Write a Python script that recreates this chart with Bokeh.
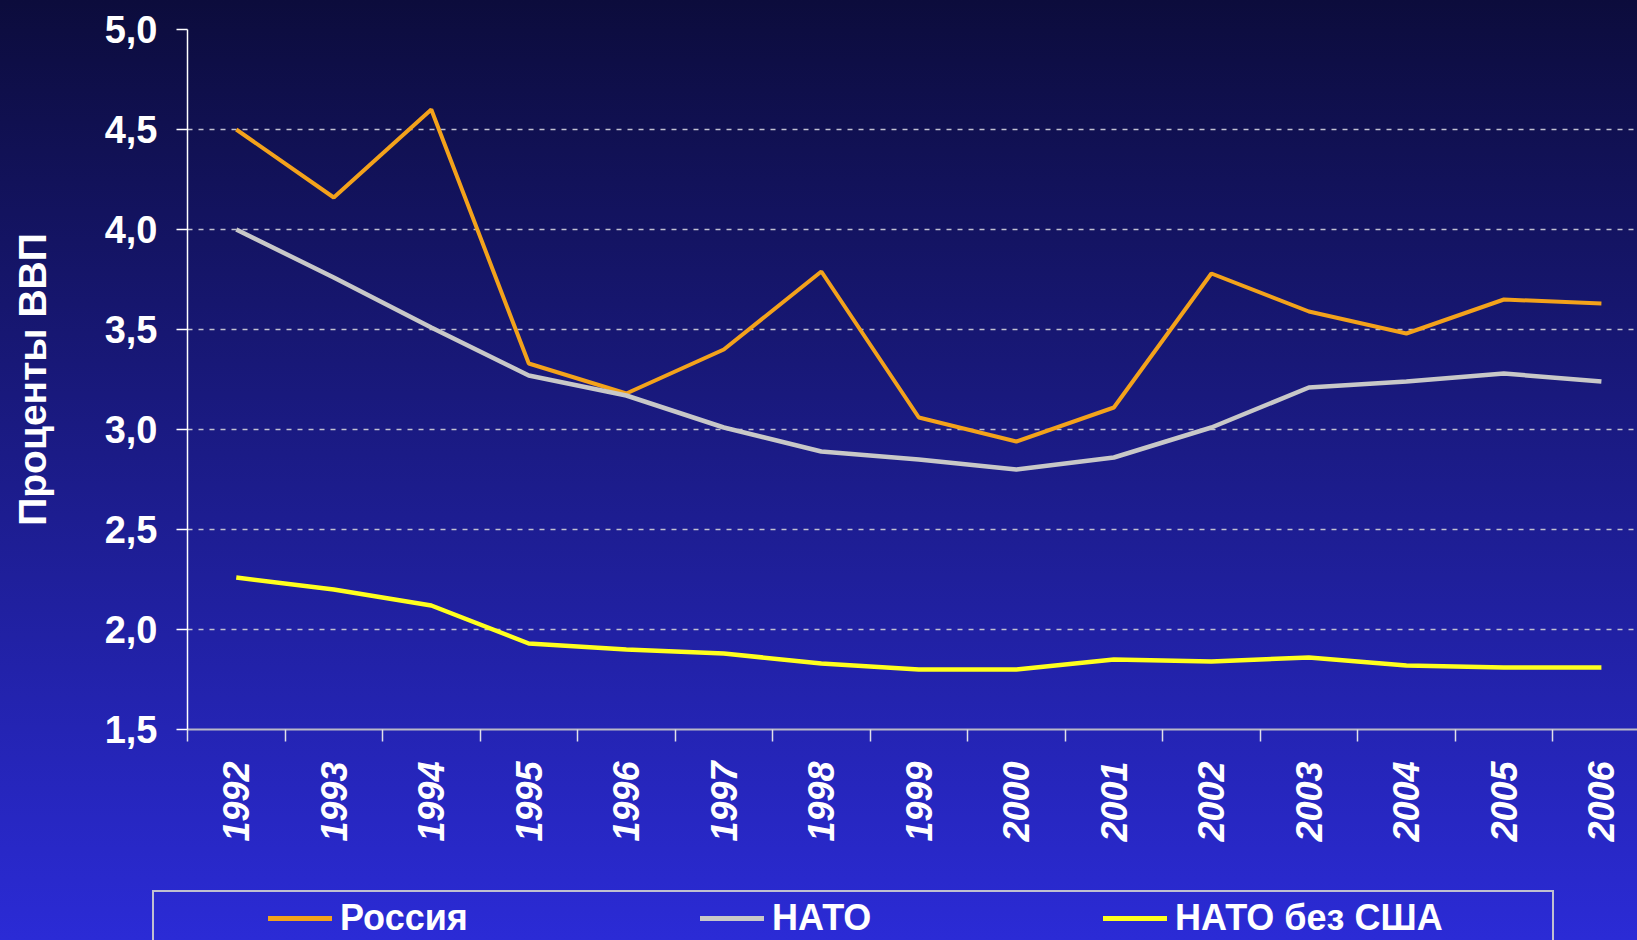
from bokeh.plotting import figure
from bokeh.layouts import column
from bokeh.models import Range1d, FixedTicker, Grid, ColumnDataSource, Div
from bokeh.embed import file_html
from bokeh.resources import INLINE

# ---- data ----
years = [1992, 1993, 1994, 1995, 1996, 1997, 1998, 1999, 2000, 2001, 2002, 2003, 2004, 2005, 2006]
year_labels = [str(y) for y in years]
russia = [4.50, 4.16, 4.60, 3.33, 3.18, 3.40, 3.79, 3.06, 2.94, 3.11, 3.78, 3.59, 3.48, 3.65, 3.63]
nato = [4.00, 3.76, 3.51, 3.27, 3.17, 3.01, 2.89, 2.85, 2.80, 2.86, 3.01, 3.21, 3.24, 3.28, 3.24]
nato_wo_us = [2.26, 2.20, 2.12, 1.93, 1.90, 1.88, 1.83, 1.80, 1.80, 1.85, 1.84, 1.86, 1.82, 1.81, 1.81]
series_names = ["Россия", "НАТО", "НАТО без США"]
series_colors = ["#f3a21b", "#c8c8c8", "#ffff1e"]
series_widths = [4, 4.5, 4.5]
y_ticks = [1.5, 2.0, 2.5, 3.0, 3.5, 4.0, 4.5, 5.0]
y_tick_labels = ["1,5", "2,0", "2,5", "3,0", "3,5", "4,0", "4,5", "5,0"]
y_title = "Проценты ВВП"

W = 1637
FONT = "'Liberation Sans', Arial, sans-serif"

# ---- main figure ----
p = figure(width=W, height=880, output_backend="svg", toolbar_location=None,
           x_range=Range1d(1991.5, 2006.37), y_range=Range1d(1.5, 5.0),
           min_border_left=187, min_border_top=29, min_border_bottom=151,
           min_border_right=0)
p.background_fill_alpha = 0
p.border_fill_alpha = 0
p.outline_line_color = None

src = ColumnDataSource(dict(x=years, r=russia, n=nato, w=nato_wo_us))
for col, c, lw in zip(["r", "n", "w"], series_colors, series_widths):
    p.line("x", col, source=src, line_color=c, line_width=lw)

# ---- axes ----
xa = p.xaxis[0]
xa.ticker = FixedTicker(ticks=years, minor_ticks=[y - 0.5 for y in years] + [years[-1] + 0.5])
xa.major_label_overrides = {y: l for y, l in zip(years, year_labels)}
xa.major_label_orientation = 3.14159265 / 2
xa.major_tick_out = 0
xa.major_tick_in = 0
xa.major_tick_line_color = None
xa.minor_tick_out = 12
xa.minor_tick_in = 0
xa.minor_tick_line_color = "#e0e0e8"
xa.minor_tick_line_width = 1.5
xa.axis_line_color = "#b8b8c8"
xa.axis_line_width = 2
xa.major_label_standoff = 20
xa.major_label_text_font = "Liberation Sans"
xa.major_label_text_font_style = "bold italic"
xa.major_label_text_font_size = "36px"
xa.major_label_text_color = "white"

ya = p.yaxis[0]
ya.ticker = FixedTicker(ticks=y_ticks)
ya.major_label_overrides = {t: l for t, l in zip(y_ticks, y_tick_labels)}
ya.major_tick_out = 11
ya.major_tick_in = 0
ya.major_tick_line_color = "white"
ya.major_tick_line_width = 1.5
ya.minor_tick_line_color = None
ya.axis_line_color = "white"
ya.axis_line_width = 1.5
ya.major_label_standoff = 19
ya.major_label_text_font = "Liberation Sans"
ya.major_label_text_font_style = "bold"
ya.major_label_text_font_size = "38px"
ya.major_label_text_color = "white"
ya.axis_label = y_title
ya.axis_label_text_font = "Liberation Sans"
ya.axis_label_text_font_style = "bold"
ya.axis_label_text_font_size = "39px"
ya.axis_label_text_color = "white"
ya.axis_label_standoff = 48

# ---- grids ----
p.xgrid.grid_line_color = None
p.ygrid.ticker = FixedTicker(ticks=y_ticks[1:-1])
p.ygrid.grid_line_color = "#c0c0d0"
p.ygrid.grid_line_dash = "5 6"
p.ygrid.grid_line_width = 1.5
top_grid = Grid(dimension=1, ticker=FixedTicker(ticks=[y_ticks[-1]]),
                grid_line_color="white", grid_line_width=2)
p.add_layout(top_grid)

# ---- legend strip (HTML) ----
glyph_left = [268, 700, 1103]
parts = ['<div style="position:relative;width:%dpx;height:60px;overflow:hidden;margin:0;padding:0">' % W,
         '<div style="position:absolute;left:152px;top:10px;width:1402px;height:120px;'
         'border:2px solid #c0c0d0;box-sizing:border-box"></div>']
for name, c, gx in zip(series_names, series_colors, glyph_left):
    parts.append('<div style="position:absolute;left:%dpx;top:36px;width:64px;height:5px;'
                 'background:%s"></div>' % (gx, c))
    parts.append('<div style="position:absolute;left:%dpx;top:20px;font-family:%s;'
                 'font-weight:bold;font-size:36px;line-height:36px;color:white;'
                 'white-space:nowrap">%s</div>' % (gx + 72, FONT, name))
parts.append('</div>')
legend_div = Div(text="".join(parts), width=W, height=60, margin=0)

lay = column(p, legend_div, spacing=0)
lay.styles = {"background": "linear-gradient(to bottom, #0c0c3c 0%, #2b2bd6 100%)"}

open("out.html", "w").write(file_html(lay, INLINE))
